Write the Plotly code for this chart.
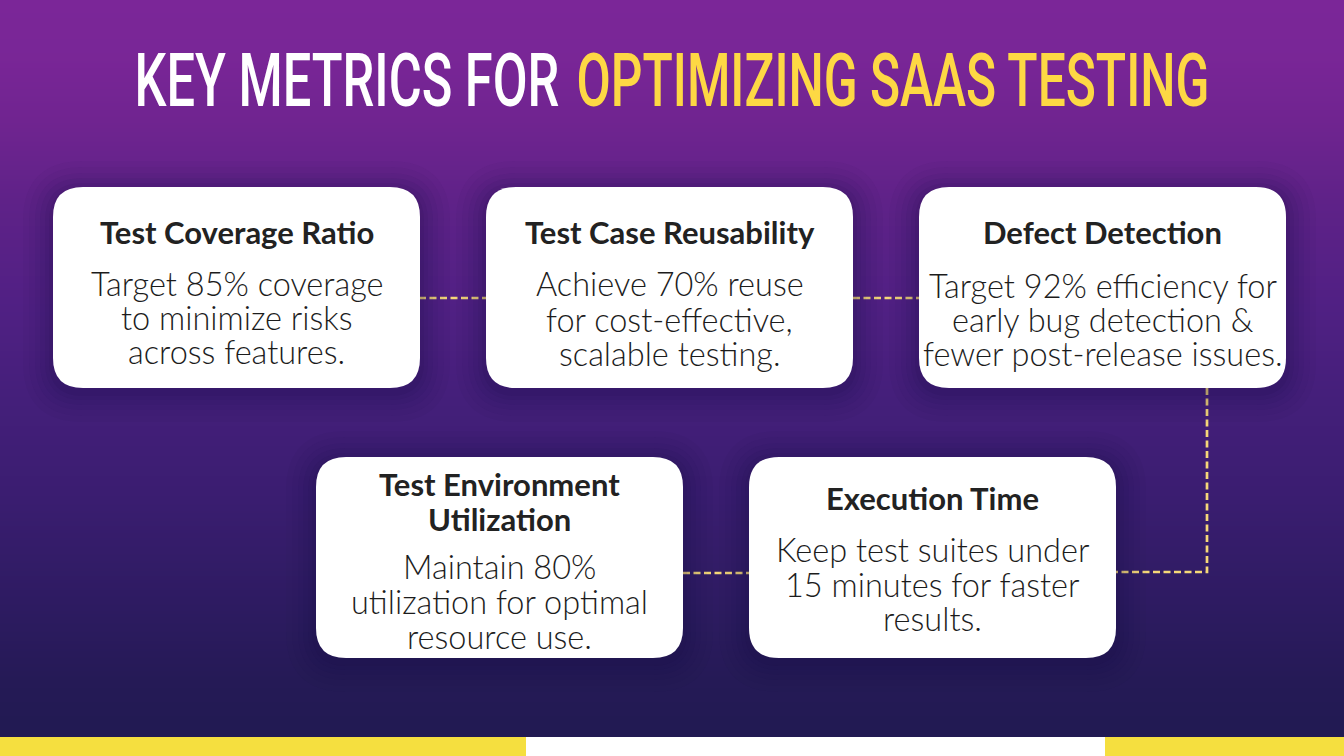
import plotly.graph_objects as go

# ---- content ----
title_parts = ["KEY METRICS FOR", "OPTIMIZING SAAS TESTING"]
title_colors = ["#ffffff", "#fdd844"]
title_center = [346.5, 892.5]
title_width = [425, 633]

card_left = [53, 486, 919, 316, 749]
card_top = [187, 187, 187, 457, 457]
card_w = 367
card_h = 201
card_r = 30

headings = [["Test Coverage Ratio"], ["Test Case Reusability"], ["Defect Detection"],
            ["Test Environment", "Utilization"], ["Execution Time"]]
heading_y = [[232], [232], [232], [484, 519], [498]]
bodies = [["Target 85% coverage", "to minimize risks", "across features."],
          ["Achieve 70% reuse", "for cost-effective,", "scalable testing."],
          ["Target 92% efficiency for", "early bug detection &", "fewer post-release issues."],
          ["Maintain 80%", "utilization for optimal", "resource use."],
          ["Keep test suites under", "15 minutes for faster", "results."]]
body_y = [[283, 317, 351], [283, 319, 353], [285, 319, 353], [566, 601, 636], [549, 584, 618]]

conn_x = [[419, 486], [853, 919], [1207, 1207, 1116], [683, 749]]
conn_y = [[298, 298], [298, 298], [388, 572, 572], [573, 573]]

grad_y = [0, 60, 120, 200, 300, 400, 500, 600, 680, 737]
grad_v = [0.0, 0.03, 0.14, 0.30, 0.45, 0.58, 0.70, 0.82, 0.93, 1.0]
grad_colors = [[0.0, "#7b2698"], [0.14, "#702490"], [0.30, "#5f2288"], [0.45, "#512084"],
               [0.58, "#441f7a"], [0.70, "#3a1d70"], [0.82, "#2e1b62"], [0.93, "#251a56"], [1.0, "#211a52"]]

band_x = [[0, 526], [526, 1105], [1105, 1344]]
band_colors = ["#f5df3f", "#ffffff", "#f5df3f"]
band_top, band_bottom = 737, 756

shadow_grow = [30, 24, 18, 13, 8, 4]
shadow_alpha = [0.035, 0.04, 0.05, 0.06, 0.07, 0.08]


def round_rect(x0, y0, x1, y1, r):
    return (f"M {x0+r} {y0} L {x1-r} {y0} Q {x1} {y0} {x1} {y0+r} L {x1} {y1-r} "
            f"Q {x1} {y1} {x1-r} {y1} L {x0+r} {y1} Q {x0} {y1} {x0} {y1-r} "
            f"L {x0} {y0+r} Q {x0} {y0} {x0+r} {y0} Z")


fig = go.Figure()

# background gradient
fig.add_trace(go.Heatmap(x=[0, 1344], y=grad_y, z=[[v, v] for v in grad_v],
                         colorscale=grad_colors, zmin=0, zmax=1, zsmooth="best",
                         showscale=False, hoverinfo="skip"))

# connectors
for xs, ys in zip(conn_x, conn_y):
    fig.add_trace(go.Scatter(x=xs, y=ys, mode="lines", hoverinfo="skip", showlegend=False,
                             line=dict(color="#f6d878", width=2.7, dash="7px,3.5px")))

shapes = []
for x, c in zip(band_x, band_colors):
    shapes.append(dict(type="rect", x0=x[0], x1=x[1], y0=band_top, y1=band_bottom,
                       fillcolor=c, line_width=0, layer="above"))
for l, t in zip(card_left, card_top):
    for g, a in zip(shadow_grow, shadow_alpha):
        shapes.append(dict(type="path", layer="above",
                           path=round_rect(l-g, t-g+4, l+card_w+g, t+card_h+g+4, card_r+g),
                           fillcolor=f"rgba(25,15,70,{a})", line_width=0))
for l, t in zip(card_left, card_top):
    shapes.append(dict(type="path", layer="above",
                       path=round_rect(l, t, l+card_w, t+card_h, card_r),
                       fillcolor="#ffffff", line_width=0))

ann = []
for txt, col, cx in zip(title_parts, title_colors, title_center):
    ann.append(dict(x=cx, y=80, xref="x", yref="y", showarrow=False, xanchor="center", yanchor="middle",
                    text=txt, font=dict(family="Roboto", size=74, color=col, weight=500)))
for i, l in enumerate(card_left):
    cx = l + card_w / 2
    for txt, y in zip(headings[i], heading_y[i]):
        ann.append(dict(x=cx, y=y, xref="x", yref="y", showarrow=False, xanchor="center", yanchor="middle",
                        text=f"<b>{txt}</b>", font=dict(family="Lato", size=31, color="#222222")))
    for txt, y in zip(bodies[i], body_y[i]):
        ann.append(dict(x=cx, y=y, xref="x", yref="y", showarrow=False, xanchor="center", yanchor="middle",
                        text=txt, font=dict(family="Lato", size=32.5, color="#1c1c1c", weight=300)))

fig.update_layout(width=1344, height=756, margin=dict(l=0, r=0, t=0, b=0),
                  paper_bgcolor="#211a52", plot_bgcolor="#211a52", showlegend=False,
                  shapes=shapes, annotations=ann,
                  xaxis=dict(range=[0, 1344], visible=False, fixedrange=True),
                  yaxis=dict(range=[756, 0], visible=False, fixedrange=True))

# The reference title is a condensed face: squeeze the real text to its measured widths.
post = ("document.body.style.margin='0';document.body.style.overflow='hidden';"
        "var ts=document.querySelectorAll('.annotation-text');"
        f"var w={title_width};"
        "for(var i=0;i<w.length;i++){var k=w[i]/ts[i].getComputedTextLength();"
        "ts[i].style.transformBox='fill-box';ts[i].style.transformOrigin='center';"
        "ts[i].style.transform='scaleX('+k+')';}")
fig.write_html("out.html", config={"displayModeBar": False}, post_script=post)
